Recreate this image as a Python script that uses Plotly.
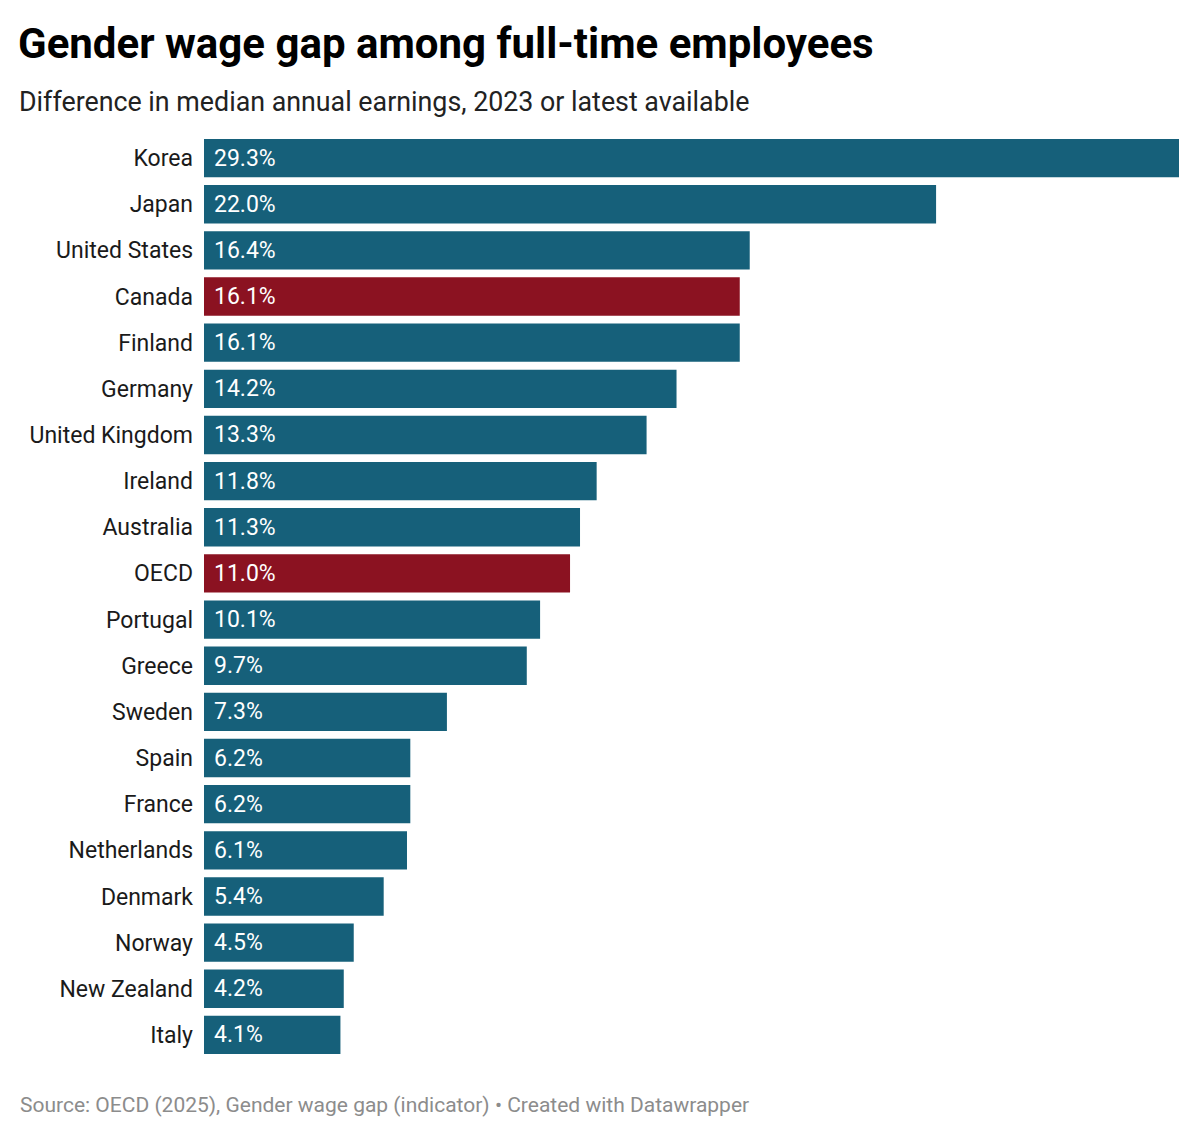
import plotly.graph_objects as go

countries = ["Korea", "Japan", "United States", "Canada", "Finland", "Germany",
             "United Kingdom", "Ireland", "Australia", "OECD", "Portugal", "Greece",
             "Sweden", "Spain", "France", "Netherlands", "Denmark", "Norway",
             "New Zealand", "Italy"]
gap = [29.3, 22.0, 16.4, 16.1, 16.1, 14.2, 13.3, 11.8, 11.3, 11.0, 10.1, 9.7,
       7.3, 6.2, 6.2, 6.1, 5.4, 4.5, 4.2, 4.1]
highlight = ["Canada", "OECD"]

BLUE = "#16607a"
RED = "#8b1221"
colors = [RED if c in highlight else BLUE for c in countries]

fig = go.Figure(go.Bar(
    x=gap, y=countries, orientation="h",
    marker=dict(color=colors, line=dict(width=0)),
    hoverinfo="skip",
))

# value labels sit inside each bar, at its left end
for c, v in zip(countries, gap):
    fig.add_annotation(x=0, y=c, text=f"{v:.1f}%", xanchor="left", xshift=8,
                       showarrow=False, font=dict(family="Roboto", size=23, color="white"))

fig.update_layout(
    width=1200, height=1137,
    margin=dict(l=196, r=29, t=127, b=87),
    paper_bgcolor="white", plot_bgcolor="white",
    font=dict(family="Roboto", color="#1a1a1a"),
    bargap=0.17,
    showlegend=False,
    title=dict(text="<b>Gender wage gap among full-time employees</b>",
               x=10 / 1200, xanchor="left", xref="container",
               y=1 - 35 / 1137, yanchor="middle", yref="container",
               font=dict(family="Roboto", size=42, color="#000")),
)

fig.add_annotation(text="Difference in median annual earnings, 2023 or latest available",
                   xref="paper", yref="paper", x=-187 / 975, y=1 + 33 / 923,
                   xanchor="left", yanchor="middle", showarrow=False,
                   font=dict(family="Roboto", size=26.8, color="#222"))
fig.add_annotation(text="Source: OECD (2025), Gender wage gap (indicator) • Created with Datawrapper",
                   xref="paper", yref="paper", x=-186 / 975, y=-47 / 923,
                   xanchor="left", yanchor="middle", showarrow=False,
                   font=dict(family="Roboto", size=21, color="#8c8c8c"))

fig.update_xaxes(range=[0, 29.3], visible=False, fixedrange=True)
fig.update_yaxes(autorange="reversed", showgrid=False, showline=False, ticks="",
                 ticklabelstandoff=10,
                 tickfont=dict(family="Roboto", size=23, color="#1a1a1a"), fixedrange=True)

fig.write_html("out.html")
